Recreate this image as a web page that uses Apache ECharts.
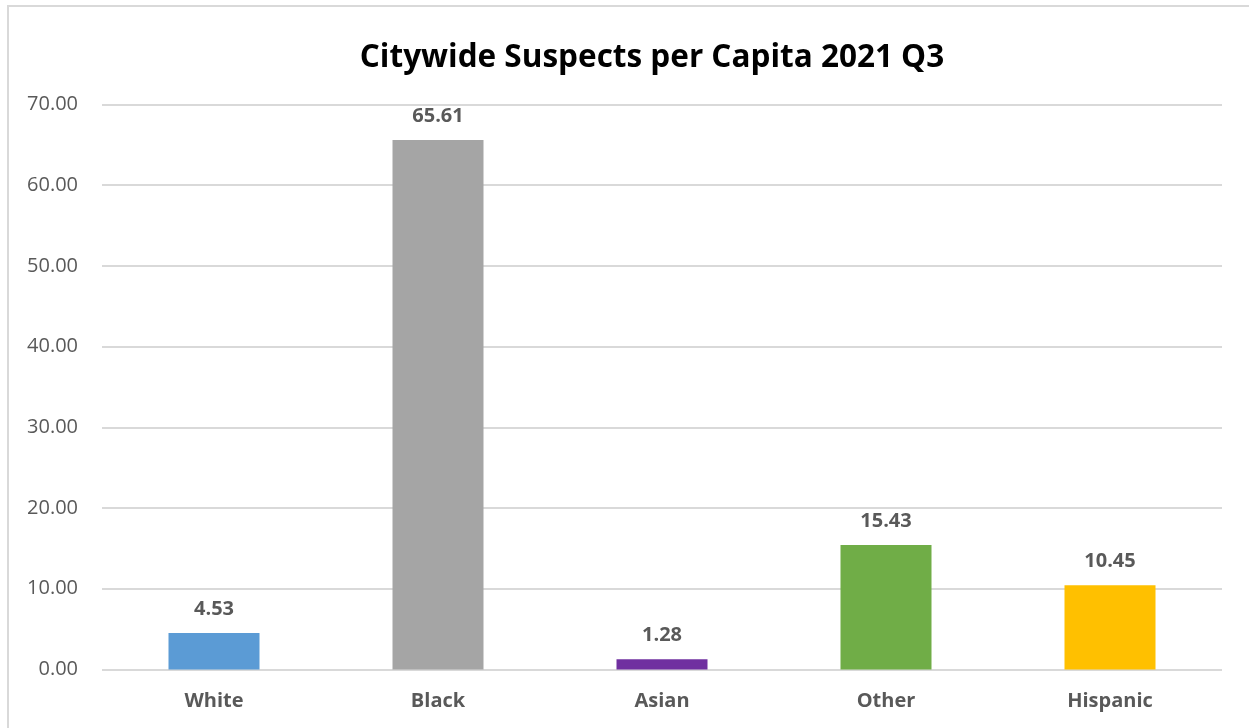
<!DOCTYPE html>
<html>
<head>
<meta charset="utf-8">
<script src="https://cdn.jsdelivr.net/npm/echarts@6/dist/echarts.min.js"></script>
<style>
  html, body { margin: 0; padding: 0; background: #fff; overflow: hidden; }
  #frame { position: absolute; left: 7px; top: 5px; width: 1270px; height: 760px; border: 2px solid #d9d9d9; box-sizing: border-box; }
  #chart { position: absolute; left: 0; top: 0; width: 1249px; height: 728px; }
</style>
</head>
<body>
<div id="frame"></div>
<div id="chart"></div>
<script>
const categories = ['White', 'Black', 'Asian', 'Other', 'Hispanic'];
const values = [4.53, 65.61, 1.28, 15.43, 10.45];
const barColors = ['#5B9BD5', '#A5A5A5', '#7030A0', '#70AD47', '#FFC000'];

const FONT = '"Open Sans", "Liberation Sans", sans-serif';
const chart = echarts.init(document.getElementById('chart'));
chart.setOption({
  animation: false,
  title: {
    text: 'Citywide Suspects per Capita 2021 Q3',
    left: 647,
    textAlign: 'center',
    top: 37,
    textStyle: { fontFamily: FONT, fontSize: 31.5, fontWeight: 'bold', color: '#000' }
  },
  grid: { left: 102, right: 27, top: 104.5, bottom: 58.5 },
  xAxis: {
    type: 'category',
    data: categories,
    axisLine: { show: false },
    axisTick: { show: false },
    axisLabel: { fontFamily: FONT, fontSize: 20, fontWeight: 'bold', color: '#595959', margin: 22 }
  },
  yAxis: {
    type: 'value',
    min: 0, max: 70, interval: 10,
    axisLine: { show: false },
    axisTick: { show: false },
    splitLine: { lineStyle: { color: '#d9d9d9', width: 2 } },
    axisLabel: {
      fontFamily: FONT, fontSize: 20, color: '#595959', margin: 24,
      formatter: v => v.toFixed(2)
    }
  },
  series: [{
    type: 'bar',
    data: values.map((v, i) => ({ value: v, itemStyle: { color: barColors[i] } })),
    barWidth: 91,
    label: {
      show: true,
      position: 'top',
      distance: 14,
      fontFamily: FONT, fontSize: 20, fontWeight: 'bold', color: '#595959',
      formatter: p => p.value.toFixed(2)
    }
  }]
});
</script>
</body>
</html>
